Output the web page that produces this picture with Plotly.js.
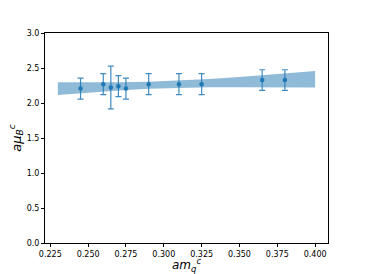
<!DOCTYPE html>
<html>
<head>
<meta charset="utf-8">
<script src="https://cdn.plot.ly/plotly-3.0.1.min.js"></script>
<style>html,body{margin:0;padding:0;background:#fff;}</style>
</head>
<body>
<div id="chart" style="width:365px;height:274px;"></div>
<script>
// Data points
const mq = [0.245, 0.260, 0.265, 0.270, 0.275, 0.290, 0.310, 0.325, 0.365, 0.380];
const muB = [2.206, 2.269, 2.221, 2.241, 2.206, 2.269, 2.269, 2.269, 2.327, 2.327];
const muErr = [0.150, 0.150, 0.305, 0.150, 0.150, 0.150, 0.150, 0.150, 0.148, 0.148];

// Fit band
const bandX = [0.23, 0.25, 0.27, 0.29, 0.31, 0.33, 0.35, 0.37, 0.40];
const bandLow = [2.116, 2.149, 2.178, 2.202, 2.217, 2.224, 2.226, 2.224, 2.220];
const bandHigh = [2.298, 2.295, 2.297, 2.304, 2.319, 2.343, 2.372, 2.406, 2.456];

const xTicks = [0.225, 0.250, 0.275, 0.300, 0.325, 0.350, 0.375, 0.400];
const yTicks = [0.0, 0.5, 1.0, 1.5, 2.0, 2.5, 3.0];

const traces = [
  {x: bandX, y: bandLow, mode: 'lines', line: {width: 0, color: 'rgba(0,0,0,0)'}, hoverinfo: 'skip', showlegend: false},
  {x: bandX, y: bandHigh, mode: 'lines', fill: 'tonexty', fillcolor: '#8fbbd9', line: {width: 0, color: 'rgba(0,0,0,0)'}, hoverinfo: 'skip', showlegend: false},
  {x: mq, y: muB, mode: 'markers', type: 'scatter',
   marker: {color: '#1f77b4', size: 4.5},
   error_y: {type: 'data', array: muErr, visible: true, color: 'rgba(31,119,180,0.85)', thickness: 1.2, width: 3},
   showlegend: false}
];

const font = {family: 'DejaVu Sans', size: 8, color: '#000'};
const titleFont = {family: 'DejaVu Sans', size: 12, color: '#000'};
const layout = {
  width: 365, height: 274,
  margin: {l: 45, r: 37, t: 33, b: 31},
  paper_bgcolor: '#fff', plot_bgcolor: '#fff',
  showlegend: false,
  font: font,
  xaxis: {
    range: [0.2215, 0.4085], tickvals: xTicks, tickformat: '.3f',
    ticks: 'outside', ticklen: 3, tickwidth: 1, tickcolor: '#000',
    showline: true, linecolor: '#000', linewidth: 1, mirror: true,
    showgrid: false, zeroline: false, tickfont: font
  },
  yaxis: {
    range: [0, 3], tickvals: yTicks, tickformat: '.1f',
    ticks: 'outside', ticklen: 3, tickwidth: 1, tickcolor: '#000',
    showline: true, linecolor: '#000', linewidth: 1, mirror: true,
    showgrid: false, zeroline: false, tickfont: font,
    title: {text: '<i>aμ</i><sub><i>B</i></sub><sup><i>c</i></sup>', font: {family: 'DejaVu Sans', size: 13, color: '#000'}, standoff: 2}
  },
  annotations: [{
    text: '<i>am</i><sub><i>q</i></sub><sup><i>c</i></sup>',
    xref: 'paper', yref: 'paper', x: 0.5, y: 0, xanchor: 'center', yanchor: 'top',
    yshift: -11, showarrow: false, font: titleFont
  }]
};

Plotly.newPlot('chart', traces, layout, {displayModeBar: false, staticPlot: true});
</script>
</body>
</html>
